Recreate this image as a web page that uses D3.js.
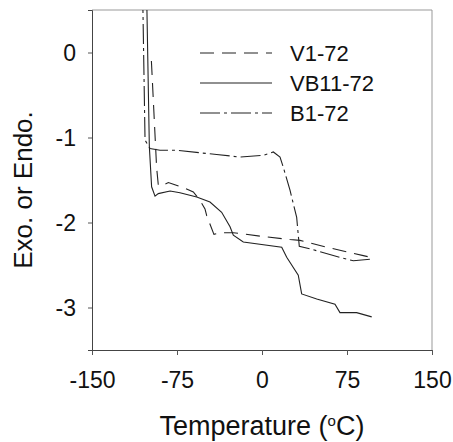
<!DOCTYPE html>
<html>
<head>
<meta charset="utf-8">
<script src="https://cdn.jsdelivr.net/npm/d3@7"></script>
<style>
  body { margin: 0; background: #fff; }
  text { font-family: Arial, "Liberation Sans", sans-serif; fill: #111; }
</style>
</head>
<body>
<div id="chart"></div>
<script>
// DSC curves: [temperature °C, signal]
const v1_72 = [[-97.6, -0.1], [-97.4, -0.15], [-93, -1.35], [-91.5, -1.56], [-89, -1.57], [-82.6, -1.53],
    [-78.2, -1.55], [-69.4, -1.59], [-60.6, -1.64], [-54.7, -1.74], [-50.3, -1.84], [-48.8, -1.92],
    [-42.4, -2.14], [-37, -2.12], [-25.3, -2.12], [4.1, -2.17], [24.7, -2.20], [33.5, -2.21],
    [57.1, -2.29], [89.4, -2.39], [96, -2.41]];
const vb11_72 = [[-101.8, 0.7], [-99.4, -1.11], [-97.4, -1.58], [-94.4, -1.69], [-91.5, -1.66], [-81.1, -1.63],
    [-72.4, -1.65], [-57.6, -1.70], [-45.9, -1.76], [-35.6, -1.88], [-28.2, -2.05], [-25.3, -2.15],
    [-16.5, -2.23], [17.4, -2.29], [21.8, -2.41], [32, -2.62], [35, -2.84], [48.3, -2.90],
    [64.4, -2.96], [68.8, -3.06], [83.5, -3.06], [96.8, -3.11]];
const b1_72 = [[-105.3, 0.7], [-103.2, -1.03], [-98.8, -1.13], [-90, -1.15], [-75.3, -1.15], [-54.7, -1.18],
    [-40, -1.20], [-19.4, -1.23], [1.2, -1.21], [10, -1.17], [15.9, -1.23], [18.8, -1.35], [24.7, -1.62],
    [30.6, -1.94], [32.9, -2.28], [42.4, -2.31], [68.8, -2.41], [80.6, -2.45], [96.8, -2.43]];

const seriesNames = ["V1-72", "VB11-72", "B1-72"];
const seriesData = [v1_72, vb11_72, b1_72];
const dashes = ["14,8", null, "20,4,3,4"];

const xTicks = [-150, -75, 0, 75, 150];
const yTicks = [0, -1, -2, -3];

const margin = { top: 10, right: 21, bottom: 92, left: 92 },
    width = 453 - margin.left - margin.right,
    height = 442 - margin.top - margin.bottom;

const svg = d3.select("#chart")
    .append("svg")
    .attr("width", 453)
    .attr("height", 442);

const g = svg.append("g")
    .attr("transform", `translate(${margin.left},${margin.top})`);

const x = d3.scaleLinear().domain([-150, 150]).range([0, width]);
const y = d3.scaleLinear().domain([-3.5, 0.5]).range([height, 0]);

g.append("clipPath").attr("id", "clip")
    .append("rect").attr("width", width).attr("height", height);

// frame: top and right are faint in the original
g.append("line").attr("x1", 0).attr("x2", width).attr("y1", 0).attr("y2", 0)
    .attr("stroke", "#999").attr("stroke-width", 1);
g.append("line").attr("x1", width).attr("x2", width).attr("y1", 0).attr("y2", height)
    .attr("stroke", "#999").attr("stroke-width", 1);

const xAxis = g.append("g")
    .attr("transform", `translate(0,${height})`)
    .call(d3.axisBottom(x).tickValues(xTicks).tickSize(5).tickFormat(d3.format("d")));
const yAxis = g.append("g")
    .call(d3.axisLeft(y).tickValues(yTicks).tickSize(4).tickFormat(d3.format("d")));

[xAxis, yAxis].forEach(a => {
    a.select(".domain").attr("stroke", "#444");
    a.selectAll(".tick line").attr("stroke", "#555");
    a.selectAll("text")
        .style("font-family", "Arial, 'Liberation Sans', sans-serif")
        .attr("font-size", 23).attr("fill", "#111");
});
xAxis.selectAll("text").attr("dy", null).attr("y", 38);
yAxis.selectAll("text").attr("x", -16).attr("dy", "0.36em");
// plain hyphen for negatives, like the original
g.selectAll(".tick text").text(function () { return d3.select(this).text().replace("−", "-"); });

const line = d3.line().x(d => x(d[0])).y(d => y(d[1]));

g.append("g").attr("clip-path", "url(#clip)")
    .selectAll("path")
    .data(seriesData)
    .join("path")
    .attr("d", line)
    .attr("fill", "none")
    .attr("stroke", "#222")
    .attr("stroke-width", 1.1)
    .attr("stroke-dasharray", (d, i) => dashes[i]);

// legend
const legend = g.append("g");
seriesNames.forEach((name, i) => {
    const ly = 43 + i * 30;
    legend.append("line")
        .attr("x1", 108).attr("x2", 180)
        .attr("y1", ly).attr("y2", ly)
        .attr("stroke", "#222").attr("stroke-width", 1.1)
        .attr("stroke-dasharray", dashes[i]);
    legend.append("text")
        .attr("x", 198).attr("y", ly + 8)
        .attr("font-size", 22)
        .text(name);
});

// axis titles
svg.append("text")
    .attr("x", margin.left + width / 2)
    .attr("y", 435)
    .attr("text-anchor", "middle")
    .attr("font-size", 27)
    .text("Temperature (")
    .append("tspan").attr("font-size", 15).attr("dy", -9).text("o")
    .select(function () { return this.parentNode; })
    .append("tspan").attr("dy", 9).text("C)");

svg.append("text")
    .attr("transform", `translate(32,${margin.top + height / 2 + 10}) rotate(-90)`)
    .attr("text-anchor", "middle")
    .attr("font-size", 26)
    .text("Exo. or Endo.");
</script>
</body>
</html>
